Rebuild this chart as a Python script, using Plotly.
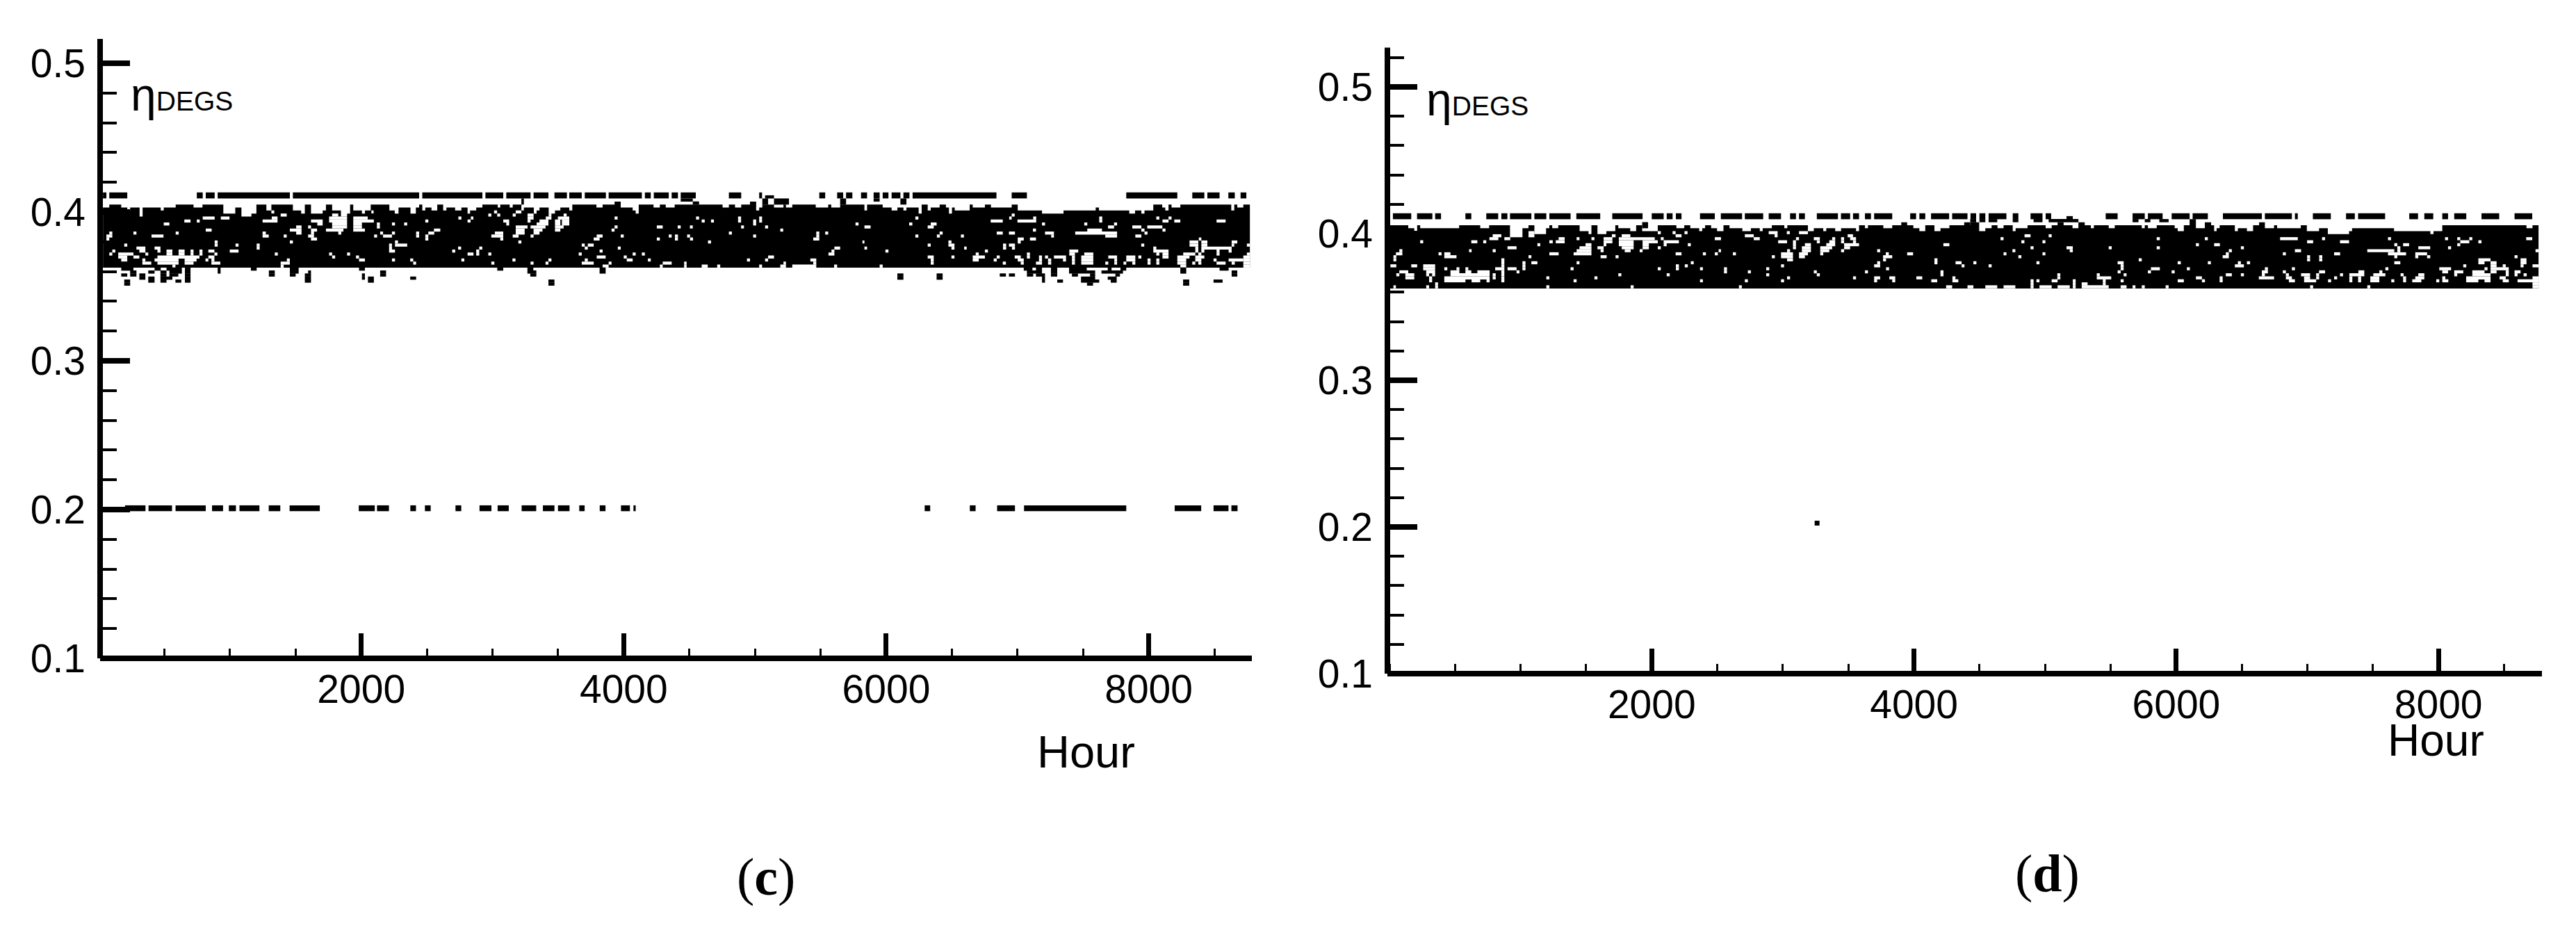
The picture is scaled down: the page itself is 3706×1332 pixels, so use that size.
import plotly.graph_objects as go

W, H = 3706, 1332

# ---------- panel (c): data ----------
c_envelope = [(32,.4031),(80,.4051),(171,.4031),(217,.4011),(239,.4031),(311,.3970),(334,.4031),(472,.4011),(495,.4031),(586,.4051),(722,.4031),(790,.4051),(949,.3990),(1040,.4031),(1087,.3970),(1163,.3990),(1201,.4051),(1277,.4011),(1315,.4051),(1479,.4011),(1542,.3990),(1570,.4051),(1617,.3990),(1706,.4011),(1731,.4051),(1778,.4011),(1845,.3970),(1892,.3990),(1915,.4051),(1939,.4011),(2005,.3990),(2028,.4011),(2072,.4051),(2214,.4011),(2261,.3990),(2284,.4031),(2375,.3990),(2416,.4031),(2441,.4051),(2465,.4011),(2488,.4031),(2535,.4011),(2579,.4051),(2624,.4011),(2649,.4031),(2715,.4011),(2763,.4031),(2810,.3990),(2829,.4011),(2876,.4031),(2923,.4051),
(3040,.4031),(3059,.4051),(3131,.4031),(3154,.4051),(3220,.4011),(3239,.4031),(3315,.3990),(3336,.4011),(3358,.4031),(3428,.3990),(3476,.4011),(3517,.4031),(3585,.4011),(3608,.4051),(3792,.4031),(3839,.4051),(3930,.4071),(3977,.4031),(4068,.4011),(4091,.3990),(4114,.4051),(4227,.4031),(4275,.4051),(4320,.4031),(4388,.4051),(4753,.4031),(4801,.4051),(4848,.4031),(4895,.4051),(4962,.4071),(5009,.4011),(5032,.4031),(5056,.4051),(5236,.4031),(5284,.4051),(5463,.4031),(5558,.4051),(5581,.4031),(5649,.4051),
(5834,.4011),(5854,.4051),(5973,.4031),(6041,.4011),(6085,.4031),(6131,.4011),(6154,.4031),(6247,.3990),(6270,.4051),(6316,.4011),(6339,.4031),(6407,.4051),(6455,.4031),(6478,.3990),(6501,.4031),(6522,.4011),(6636,.4051),(6659,.4031),(6752,.4051),(6798,.4031),(6956,.4051),(7002,.4011),(7187,.3990),(7351,.4011),(7596,.4031),(7621,.4011),(7852,.3990),(7896,.4011),(7944,.3990),(7968,.4011),(8035,.4051),(8103,.4031),(8126,.4011),(8151,.4051),(8174,.4031),(8241,.4051),(8629,.4011),(8652,.4051),(8675,.4031),(8721,.4051),(8771,.4051)]
c_band_floor = 0.3626

c_upper_eta = 0.4112
c_upper_runs = [(32,58),(80,217),(747,792),(815,883),(906,1456),(1479,2441),(2465,2923),(2946,3082),(3105,3290),(3313,3426),(3472,3567),(3585,3680),(3703,3864),(3885,4138),(4161,4206),(4229,4343),(4365,4413),(4434,4549),(4801,4895),(5032,5054),(5490,5535),(5626,5672),(5694,5742),(5808,5854),(5904,5950),(5973,6017),(6041,6108),(6131,6177),(6201,6840),(6956,7072),(7829,8218),(8332,8424),(8447,8540),(8607,8656),(8700,8744)]

c_lower_eta = 0.2009
c_lower_runs = [(200,356),(379,558),(585,815),(863,947),(991,1045),(1072,1224),(1295,1383),(1454,1684),(1981,2103),(2120,2211),(2374,2417),(2485,2529),(2718,2762),(2901,2992),(3039,3124),(3222,3333),(3384,3472),(3499,3587),(3661,3702),(3817,3861),(3979,4047),(4074,4091),(6293,6335),(6637,6681),(6845,6981),(7050,7829),(8198,8400),(8494,8608),(8630,8677)]

c_gaps = {
 .4041:[(5145,5217)],
 .4001:[(1315,1337),(2077,2094),(2255,2280),(3012,3035),(3177,3220)],
 .3980:[(1386,1432),(1778,1825),(2968,2991),(3036,3059),(3154,3177),(3267,3313),(3428,3449),(3542,3565),(6956,6979)],
 .3960:[(792,883),(930,996),(1318,1362),(1755,1892),(1939,2049),(2740,2763),(2835,2854),(3267,3313),(3406,3449),(3498,3585),(3930,3953),(4551,4574),(4871,4894),(5032,5054),(6222,6245),(6937,6956),(7120,7143),(7623,7646),(8058,8081),(8151,8174)],
 .3940:[(652,699),(747,769),(1248,1362),(1617,1706),(1755,1892),(1939,2096),(2488,2511),(2810,2833),(3082,3127),(3267,3290),(3358,3426),(3476,3517),(3529,3585),(4594,4617),(4665,4687),(4871,4894),(4986,5009),(5032,5054),(6796,6888),(7000,7143),(7623,7646),(8105,8151),(8195,8241),(8517,8586)],
 .3920:[(495,538),(1665,1706),(1778,1892),(1939,2005),(2119,2142),(2234,2257),(2327,2350),(3105,3127),(3336,3426),(3476,3517),(3529,3585),(4986,5009),(5766,5789),(6175,6199),(6339,6384),(7187,7210),(7509,7532),(7736,7759)],
 .3900:[(1504,1545),(1595,1617),(1778,1892),(1939,2005),(2119,2142),(3177,3267),(3290,3404),(3476,3542),(3930,3953),(4252,4297),(4411,4434),(4504,4526),(4894,4916),(5077,5100),(5834,5881),(6316,6362),(7690,7736),(7875,7944),(7989,8104)],
 .3879:[(815,860),(1456,1545),(1617,1663),(1731,1864),(1939,2028),(2554,2602),(3177,3245),(3313,3381),(3476,3517),(3907,3930),(5193,5215),(7118,7141),(7532,7644),(7944,7968),(8105,8128)],
 .3859:[(80,103),(264,287),(586,609),(1248,1273),(1504,1545),(1617,1640),(1825,1848),(2144,2166),(2234,2257),(2418,2441),(2511,2556),(3018,3082),(3177,3245),(3313,3358),(4801,4824),(5467,5490),(5535,5558),(6407,6430),(6842,6888),(6935,6981),(7210,7278),(7440,7759),(7968,7991)],
 .3839:[(58,103),(402,493),(1248,1295),(1409,1432),(1595,1640),(2098,2121),(2166,2234),(2418,2441),(2488,2511),(2991,3082),(3154,3199),(3290,3313),(3794,3839),(3977,4000),(4343,4365),(4390,4413),(4483,4505),(4986,5009),(5467,5490),(6222,6245),(6386,6409),(6569,6592),(7257,7278),(7669,7759),(7898,7944)],
 .3819:[(58,80),(1617,1663),(2488,2511),(3059,3082),(3771,3816),(4252,4275),(4390,4413),(4505,4528),(5444,5490),(7002,7048),(7095,7141),(8382,8401)],
 .3799:[(883,906),(1456,1479),(2257,2280),(3197,3220),(4642,4665),(5819,5834),(6474,6497),(7002,7025),(8311,8378),(8401,8447),(8632,8675)],
 .3778:[(194,217),(883,906),(1042,1065),(1203,1226),(2212,2234),(2257,2350),(3680,3703),(3726,3771),(6316,6339),(6474,6520),(6890,6914),(6935,6981),(7943,7966),(8311,8378),(8401,8447),(8632,8652),(8748,8771)],
 .3758:[(287,355),(425,470),(1203,1226),(2212,2234),(2738,2761),(2899,2922),(3703,3726),(3955,3977),(5605,5649),(5834,5854),(6497,6520),(6594,6613),(6890,6914),(6958,6981),(8035,8058),(8355,8378),(8401,8632)],
 .3738:[(103,126),(309,355),(447,470),(516,561),(608,654),(699,722),(767,790),(835,881),(998,1065),(2212,2257),(2693,2716),(2876,2899),(3816,3839),(5583,5605),(5994,6017),(6752,6775),(7395,7463),(8035,8151),(8355,8378),(8401,8424),(8517,8540),(8609,8632)],
 .3718:[(80,103),(148,264),(355,377),(516,561),(608,654),(699,722),(767,790),(881,904),(1341,1364),(1755,1778),(1892,1915),(2810,2855),(2876,2899),(2968,2991),(3657,3680),(4068,4091),(4138,4161),(5560,5605),(6682,6705),(7072,7095),(7395,7438),(7509,7578),(8058,8081),(8105,8151),(8263,8355),(8378,8401),(8517,8540),(8748,8771)],
 .3698:[(148,217),(264,309),(447,767),(835,881),(1778,1801),(1960,1983),(3794,3862),(4000,4023),(5100,5145),(6316,6362),(6497,6520),(6659,6752),(6842,6865),(6979,7025),(7072,7095),(7164,7187),(7210,7233),(7278,7370),(7415,7438),(7486,7578),(7692,7759),(7829,7898),(7921,7944),(8105,8151),(8218,8311),(8355,8424),(8721,8771)],
 .3678:[(171,217),(332,355),(425,608),(654,745),(813,835),(858,881),(1433,1456),(1983,2028),(2234,2257),(2373,2396),(2763,2785),(3152,3175),(3426,3449),(3703,3726),(4023,4068),(4184,4206),(4939,4962),(5077,5100),(5422,5467),(6339,6362),(6659,6705),(6819,6842),(7002,7048),(7164,7187),(7233,7257),(7347,7370),(7415,7438),(7486,7578),(7738,7759),(7829,7898),(7991,8014),(8058,8081),(8218,8286),(8355,8401),(8494,8517),(8609,8721),(8721,8771)],
 .3657:[(332,400),(447,608),(654,722),(858,926),(1386,1456),(2396,2418),(2991,3014),(3290,3313),(3404,3426),(3680,3771),(3885,3907),(4297,4365),(4460,4479),(5217,5236),(5444,5467),(6339,6362),(6888,6912),(7025,7048),(7141,7187),(7233,7257),(7415,7438),(7486,7578),(7669,7692),(7738,7759),(7808,7829),(7875,7898),(7991,8014),(8058,8081),(8218,8286),(8332,8355),(8378,8401),(8517,8586),(8632,8656),(8721,8771)],
 .3637:[(561,584),(1386,1409),(3839,3885),(4275,4297),(4460,4479),(4594,4640),(4712,4735),(5032,5054),(5193,5236),(5284,5467),(5603,5626),(5950,5973),(8241,8286),(8721,8771)],
}

c_outliers = {
 .4102:[(5077,5145)],
 .4081:[(3220,3239),(4434,4526),(5056,5100),(5145,5259),(5649,5694),(5904,5950),(6108,6154)],
 .4061:[(3220,3239),(4526,4574),(5056,5100),(5145,5259),(5649,5694),(6108,6154)],
 .3617:[(171,264),(425,472),(516,633),(656,699),(906,928),(1159,1203),(1456,1523),(1983,2028),(3036,3082),(3266,3311),(3816,3862),(7048,7114),(7141,7187),(7255,7303),(7393,7528),(7688,7717),(7785,7829),(8241,8286),(8540,8609)],
 .3597:[(239,287),(377,425),(470,516),(538,633),(656,699),(906,928),(1296,1341),(1456,1523),(1595,1617),(2144,2189),(3266,3334),(3816,3862),(7072,7187),(7255,7303),(7393,7592),(7640,7804),(8241,8286),(8632,8675)],
 .3577:[(171,217),(239,287),(309,355),(470,516),(538,606),(656,699),(1296,1341),(1456,1500),(1570,1617),(2005,2028),(2144,2189),(3288,3334),(6085,6131),(6384,6430),(6865,6912),(6935,6981),(7072,7120),(7141,7210),(7255,7303),(7415,7461),(7553,7592),(7746,7781),(8632,8675)],
 .3556:[(309,355),(377,425),(470,561),(656,699),(1570,1617),(2005,2028),(2051,2096),(2373,2418),(6085,6131),(6384,6430),(7187,7210),(7484,7592),(7688,7756)],
 .3536:[(194,239),(377,425),(470,516),(584,629),(656,699),(1570,1617),(2051,2096),(3426,3472),(7187,7210),(7303,7347),(7484,7623),(7711,7756),(8262,8309),(8494,8563)],
 .3516:[(194,239),(3426,3472),(7530,7576),(8262,8309)],
}

# ---------- panel (d): data ----------
d_envelope = [(2,.4057),(143,.4037),(189,.4016),(211,.4057),(234,.4037),(531,.4057),(692,.4037),(760,.4057),(919,.3975),(1014,.4037),(1060,.4057),(1105,.3996),(1194,.4037),(1219,.4057),(1241,.4037),(1287,.4057),(1450,.4016),(1518,.3996),(1540,.4057),(1586,.3996),(1654,.4016),(1722,.4057),(1745,.4037),(1836,.4016),(1881,.4057),(1927,.4016),(2046,.4057),(2188,.4037),(2248,.4057),(2294,.4037),(2362,.4016),(2385,.4037),(2407,.4057),(2453,.4037),(2498,.4016),(2547,.4057),(2593,.4037),(2691,.4016),(2756,.4037),(2824,.4016),(2846,.4037),
(2916,.4057),(3011,.4037),(3034,.4057),(3191,.4016),(3236,.4037),(3308,.4016),(3331,.4037),(3399,.4016),(3444,.4037),(3558,.4016),(3581,.4057),(3626,.4037),(3649,.4057),(3766,.4037),(3834,.4057),(3903,.4077),(3948,.4057),(3995,.4037),(4041,.4016),(4086,.4057),(4156,.4016),(4202,.4037),(4270,.4057),(4383,.4077),(4429,.4057),(4452,.4077),(4497,.4016),(4544,.4037),(4592,.4057),(4637,.4037),(4683,.4057),(4753,.4016),(4775,.4037),(4866,.4057),(5004,.4037),(5050,.4057),(5095,.4077),(5141,.4057),(5209,.4037),(5254,.4077),(5302,.4057),(5349,.4037),(5372,.4057),(5485,.4037),(5531,.4057),(5737,.4037),(5760,.4057),
(5784,.4037),(5851,.4057),(5988,.4037),(6011,.4016),(6058,.4057),(6102,.4098),(6150,.4037),(6218,.4077),(6266,.4057),(6289,.4016),(6308,.4037),(6331,.4057),(6447,.4016),(6470,.4037),(6539,.4016),(6586,.4057),(6632,.4077),(6676,.4037),(6746,.4057),(6769,.4037),(6950,.4057),(6996,.4016),(7089,.4037),(7156,.3996),(7318,.4016),(7341,.4037),(7661,.4016),(7938,.3996),(7962,.4016),(8029,.4057),(8671,.4037),(8717,.4057),(8763,.4057)]
d_band_floor = 0.3626

d_upper_eta = 0.4118
d_upper_runs = [(26,166),(210,327),(348,393),(579,624),(738,829),(853,899),(919,1082),(1105,1196),(1219,1381),(1425,1607),(1699,1930),(2000,2091),(2114,2159),(2184,2227),(2368,2481),(2527,2689),(2710,2850),(2892,2986),(3055,3100),(3123,3168),(3259,3420),(3443,3513),(3535,3581),(3626,3672),(3696,3834),(3971,4016),(4041,4086),(4130,4268),(4291,4408),(4431,4474),(4499,4544),(4569,4705),(4753,4796),(4889,4980),(5004,5046),(5462,5553),(5667,5760),(5784,5896),(5965,6102),(6125,6241),(6356,6653),(6676,6882),(6905,6927),(7042,7179),(7295,7362),(7387,7593),(7777,7844),(7892,7960),(8029,8073),(8120,8212),(8328,8463),(8580,8715)]

d_lone_hour = [3261]
d_lone_eta = [0.2026]

d_gaps = {
 .4006:[(1060,1105),(2046,2069),(2159,2182),(2250,2273),(2892,2960),(3030,3053),(3123,3191)],
 .3985:[(787,853),(1060,1105),(1696,1724),(1771,1837),(2182,2227),(2710,2778),(2937,2960),(3494,3535),(4843,4889),(5027,5050)],
 .3965:[(762,830),(876,921),(1290,1336),(1427,1449),(1540,1563),(1633,1700),(1749,2023),(2069,2091),(2481,2528),(2778,2824),(3100,3123),(3236,3282),(3376,3399),(3444,3467),(3513,3558),(4660,4683),(5851,5875),(6218,6241),(6792,6927),(7112,7135),(7615,7638),(8050,8073),(8143,8166),(8235,8258),(8669,8715)],
 .3944:[(234,257),(624,670),(715,738),(1219,1245),(1268,1336),(1633,1700),(1749,1862),(1930,2046),(2091,2207),(2964,3032),(3077,3100),(3259,3282),(3354,3399),(3444,3467),(3535,3558),(4819,4842),(4980,5002),(6998,7044),(7249,7318),(8166,8235),(8304,8328)],
 .3924:[(1128,1150),(1495,1540),(1633,1654),(1749,1862),(1930,1978),(2091,2114),(2275,2298),(3077,3100),(3168,3214),(3331,3399),(3467,3581),(4224,4270),(6150,6173),(6289,6333),(7663,7686),(7730,7776),(8143,8166)],
 .3903:[(900,969),(1449,1540),(1586,1633),(1771,1862),(1930,1978),(2046,2069),(3077,3100),(3145,3214),(3285,3376),(3467,3513),(4889,4912),(5163,5211),(5485,5508),(5851,5875),(6493,6516),(7686,7709),(7846,7937),(8073,8096)],
 .3883:[(75,98),(607,626),(787,810),(1427,1540),(1610,1633),(1794,1839),(1908,1930),(2510,2528),(3032,3055),(3145,3214),(3285,3354),(3444,3467),(3719,3742),(4751,4773),(5188,5211),(6401,6424),(6905,6952),(7457,7663),(7686,7709),(8740,8763)],
 .3862:[(49,98),(374,397),(418,465),(1219,1290),(1404,1540),(2182,2227),(2390,2413),(2481,2504),(2619,2642),(2986,3077),(3123,3191),(3285,3308),(3785,3808),(3948,3993),(4683,4705),(4980,5002),(6378,6401),(6813,6836),(7204,7250),(7615,7753),(7823,7913)],
 .3842:[(30,52),(418,511),(1060,1082),(1610,1656),(1724,1747),(2916,2939),(2986,3077),(3123,3168),(3764,3834),(4796,4819),(6354,6401),(6998,7021),(7090,7114),(7663,7686),(7823,7846),(7913,7937),(8580,8603)],
 .3821:[(30,52),(853,876),(3032,3077),(3764,3787),(4156,4179),(5714,5737),(6998,7021),(7090,7114),(8304,8397),(8626,8671)],
 .3801:[(853,876),(1014,1037),(1082,1128),(1427,1449),(2298,2320),(3719,3742),(4156,4179),(4317,4363),(4453,4476),(4934,4957),(5553,5599),(6011,6035),(6241,6264),(6470,6493),(6539,6563),(7663,7709),(8304,8351),(8397,8443),(8626,8671)],
 .3780:[(7,52),(166,211),(257,348),(853,876),(1014,1037),(2184,2207),(2252,2275),(2986,3009),(3696,3742),(4363,4385),(4569,4592),(5576,5599),(6447,6516),(8189,8212),(8397,8443),(8490,8513),(8626,8649),(8717,8763)],
 .3760:[(257,348),(418,441),(511,533),(579,601),(806,876),(900,969),(1014,1037),(1381,1404),(2046,2069),(2184,2207),(2368,2390),(2551,2574),(2873,2896),(3787,3810),(5576,5599),(5807,5875),(6081,6104),(6676,6699),(6882,6905),(7595,7618),(8006,8096),(8351,8374),(8397,8536)],
 .3739:[(75,143),(280,348),(465,533),(579,624),(670,764),(853,876),(969,991),(2551,2574),(2733,2756),(3236,3259),(3626,3649),(4202,4225),(5553,5576),(5784,5807),(5965,5988),(6653,6699),(6813,6836),(7089,7135),(7389,7434),(7549,7572),(8029,8073),(8120,8189),(8258,8351),(8397,8443),(8513,8536),(8580,8626)],
 .3719:[(52,75),(121,189),(280,302),(325,348),(465,764),(787,810),(853,876),(1745,1768),(2114,2137),(2873,2896),(3259,3282),(4202,4225),(5093,5116),(5394,5417),(5599,5621),(6378,6424),(6493,6516),(6653,6676),(6836,6859),(6952,7021),(7067,7090),(7249,7272),(7320,7434),(7503,7595),(7711,7734),(7846,7892),(8120,8143),(8258,8397),(8513,8536),(8580,8603),(8649,8673)],
 .3698:[(121,189),(302,325),(418,764),(787,810),(853,876),(1196,1219),(1563,1586),(3032,3055),(3535,3558),(3696,3742),(3812,3857),(4018,4063),(4293,4316),(5093,5116),(5394,5504),(6150,6196),(6331,6354),(6630,6746),(6836,6882),(6975,7021),(7067,7090),(7204,7227),(7320,7343),(7387,7410),(7480,7549),(7730,7753),(7823,7892),(8029,8052),(8211,8397),(8466,8513),(8717,8763)],
 .3678:[(302,325),(418,579),(626,692),(740,764),(853,876),(1404,1427),(2368,2390),(2710,2733),(2986,3009),(3696,3719),(3834,3857),(4132,4177),(4293,4338),(4889,4912),(4934,4957),(5050,5095),(5211,5233),(5440,5462),(5576,5599),(6011,6058),(6196,6219),(6331,6354),(6859,6905),(6975,7067),(7158,7181),(7320,7343),(7387,7410),(7480,7549),(7640,7663),(7730,7753),(7800,7869),(7983,8006),(8029,8075),(8211,8304),(8351,8397),(8490,8536),(8603,8763)],
 .3657:[(348,370),(4889,4912),(5211,5233),(5279,5324),(5440,5462),(8717,8763)],
 .3637:[(30,49),(280,302),(348,370),(1196,1219),(1839,1862),(2665,2687),(4245,4291),(4408,4453),(4544,4635),(4683,4773),(4889,4912),(4957,5050),(5095,5188),(5211,5233),(5279,5485),(5576,5621),(5667,5689),(5737,5760),(5919,5942),(7021,7044),(7457,7480),(8717,8763)],
}

d_outliers = {
 .4108:[(5163,5211)],
 .4088:[(4429,4474),(4499,4544),(4569,4635),(4753,4796),(4912,4980),(5027,5254),(5667,5712),(5760,5803),(5871,5942)],
 .4067:[(1927,1972),(4429,4474)],
 .4047:[(1927,1972)],
}

y_major = [0.1, 0.2, 0.3, 0.4, 0.5]
y_labels = ["0.1", "0.2", "0.3", "0.4", "0.5"]
x_major = [2000, 4000, 6000, 8000]
x_labels = ["2000", "4000", "6000", "8000"]


def runs_xy(rows):
    xs, ys = [], []
    for eta, runs in rows.items():
        for a, b in runs:
            xs += [a, b, None]
            ys += [eta, eta, None]
    return xs, ys


def add_panel(fig, xa, ya, envelope, floor, gaps, outliers, upper_eta, upper_runs):
    hours = [p[0] for p in envelope]
    tops = [p[1] for p in envelope]
    fig.add_trace(go.Scatter(x=hours, y=[floor] * len(hours), mode="lines", xaxis=xa, yaxis=ya,
                             line=dict(width=0, color="black", shape="hv")))
    fig.add_trace(go.Scatter(x=hours, y=tops, mode="lines", xaxis=xa, yaxis=ya, fill="tonexty",
                             fillcolor="black", line=dict(width=0, color="black", shape="hv")))
    gx, gy = runs_xy(gaps)
    fig.add_trace(go.Scatter(x=gx, y=gy, mode="lines", xaxis=xa, yaxis=ya,
                             line=dict(width=4.4, color="white")))
    ox, oy = runs_xy(outliers)
    fig.add_trace(go.Scatter(x=ox, y=oy, mode="lines", xaxis=xa, yaxis=ya,
                             line=dict(width=4.6, color="black")))
    ux, uy = runs_xy({upper_eta: upper_runs})
    fig.add_trace(go.Scatter(x=ux, y=uy, mode="lines", xaxis=xa, yaxis=ya,
                             line=dict(width=8.6, color="black")))


fig = go.Figure()
add_panel(fig, "x", "y", c_envelope, c_band_floor, c_gaps, c_outliers, c_upper_eta, c_upper_runs)
lx, ly = runs_xy({c_lower_eta: c_lower_runs})
fig.add_trace(go.Scatter(x=lx, y=ly, mode="lines", xaxis="x", yaxis="y", line=dict(width=8.4, color="black")))

add_panel(fig, "x2", "y2", d_envelope, d_band_floor, d_gaps, d_outliers, d_upper_eta, d_upper_runs)
fig.add_trace(go.Scatter(x=d_lone_hour, y=d_lone_eta, mode="markers", xaxis="x2", yaxis="y2",
                         marker=dict(symbol="square", size=7, color="black")))

TICK_FONT = dict(family="Liberation Sans", size=57, color="black")


def xaxis(left, right, rng, anchor):
    return dict(domain=[left / W, right / W], range=rng, anchor=anchor, showgrid=False, zeroline=False,
                automargin=False, showline=False, tickmode="array", tickvals=x_major, ticktext=x_labels, ticks="inside",
                ticklen=36, tickwidth=7, tickcolor="black", tickfont=TICK_FONT, ticklabelstandoff=6,
                minor=dict(dtick=500, tick0=0, ticks="inside", ticklen=14, tickwidth=3, tickcolor="black", showgrid=False))


def yaxis(top, bottom, rng, anchor):
    return dict(domain=[1 - bottom / H, 1 - top / H], range=rng, anchor=anchor, showgrid=False, zeroline=False,
                automargin=False, showline=False, tickmode="array", tickvals=y_major, ticktext=y_labels, ticks="inside",
                ticklen=43, tickwidth=8, tickcolor="black", tickfont=TICK_FONT, ticklabelstandoff=20,
                minor=dict(dtick=0.02, tick0=0.1, ticks="inside", ticklen=24, tickwidth=3.5, tickcolor="black", showgrid=False))


def spine(xref, yref, x0, y0, x1, y1):
    return dict(type="line", xref=xref, yref=yref, x0=x0, y0=y0, x1=x1, y1=y1, layer="above",
                line=dict(color="black", width=8))


def note(px, py, text, size, family="Liberation Sans", anchor="center"):
    return dict(xref="paper", yref="paper", x=px / W, y=1 - py / H, text=text, showarrow=False, xanchor=anchor,
                yanchor="middle", font=dict(family=family, size=size, color="black"))


eta_label = '<span style="font-size:66px">η</span><span style="font-size:39px">DEGS</span>'

fig.update_layout(
    width=W, height=H, autosize=False, margin=dict(l=0, r=0, t=0, b=0), showlegend=False,
    paper_bgcolor="white", plot_bgcolor="white", hovermode=False,
    xaxis=xaxis(144, 1801, [10, 8786], "y"),
    yaxis=yaxis(56, 947, [0.1, 0.5164], "x"),
    xaxis2=xaxis(1996, 3657, [-16, 8789], "y2"),
    yaxis2=yaxis(68.6, 969, [0.1, 0.5267], "x2"),
    shapes=[
        spine("x domain", "y domain", 0, 0, 0, 1),
        spine("x domain", "y domain", 0, 0, 1, 0),
        spine("x2 domain", "y2 domain", 0, 0, 0, 1),
        spine("x2 domain", "y2 domain", 0, 0, 1, 0),
    ],
    annotations=[
        note(186, 136, eta_label, 39, anchor="left"),
        note(2050, 143, eta_label, 39, anchor="left"),
        note(1562, 1081, "Hour", 65),
        note(3504, 1065, "Hour", 64),
        note(1102, 1261, "(<b>c</b>)", 76, family="Liberation Serif"),
        note(2945, 1256, "(<b>d</b>)", 76, family="Liberation Serif"),
    ],
)

fig.write_html("out.html", config=dict(displayModeBar=False),
               post_script="document.body.style.margin='0';document.body.style.overflow='hidden';")
